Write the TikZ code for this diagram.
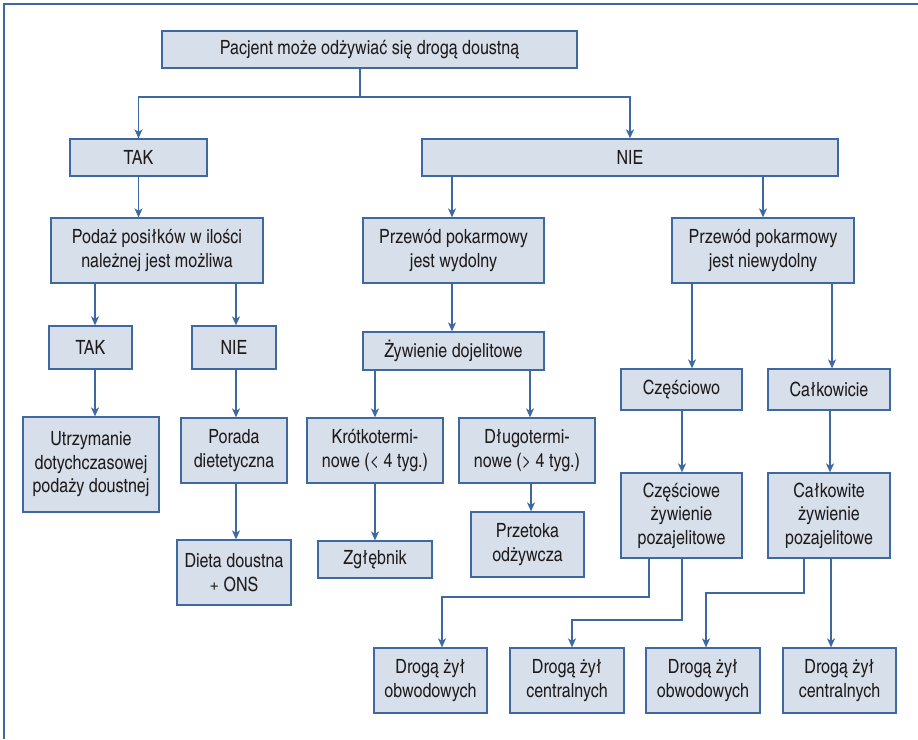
\documentclass[tikz,border=0pt]{standalone}
\usepackage{fontspec}
\setmainfont{TeX Gyre Heros Cn}
\usetikzlibrary{arrows.meta,calc}
\definecolor{boxfill}{RGB}{215,223,234}
\definecolor{boxline}{RGB}{62,104,162}
\definecolor{txt}{RGB}{30,27,28}
\begin{document}
\begin{tikzpicture}[x=1pt,y=-1pt,
  box/.style={draw=boxline,fill=boxfill,line width=1.3pt,align=center,inner sep=0pt,
    text=txt,font=\fontsize{19.6}{23.5}\selectfont},
  conn/.style={draw=boxline,line width=1.3pt},
  arr/.style={conn,-{Stealth[length=9pt,width=8pt,inset=2.5pt]}}]
\useasboundingbox (0,0) rectangle (918,739);
% frame
\draw[conn] (4,739) -- (4,4) -- (918,4);
% nodes
\node[box,minimum width=415,minimum height=37] (top) at (369.5,49.5) {Pacjent może odżywiać się drogą doustną};
\node[box,minimum width=137,minimum height=37] (tak) at (138.5,157.5) {TAK};
\node[box,minimum width=416,minimum height=37] (nie) at (630,157.5) {NIE};
\node[box,minimum width=212,minimum height=65] (podaz) at (157,250.5) {Podaż posiłków w ilości\\należnej jest możliwa};
\node[box,minimum width=181,minimum height=65] (wyd) at (453.5,250.5) {Przewód pokarmowy\\jest wydolny};
\node[box,minimum width=182,minimum height=65] (niewyd) at (763,250.5) {Przewód pokarmowy\\jest niewydolny};
\node[box,minimum width=83,minimum height=43] (tak2) at (90.5,347.5) {TAK};
\node[box,minimum width=84,minimum height=43] (nie2) at (234,347.5) {NIE};
\node[box,minimum width=181,minimum height=38] (zyw) at (453.5,351) {Żywienie dojelitowe};
\node[box,minimum width=121,minimum height=41] (czesc) at (681.5,389.5) {Częściowo};
\node[box,minimum width=122,minimum height=41] (calk) at (829,389.5) {Całkowicie};
\node[box,minimum width=136,minimum height=95] (utrz) at (91,464.5) {Utrzymanie\\dotychczasowej\\podaży doustnej};
\node[box,minimum width=106,minimum height=65] (porada) at (234,450.5) {Porada\\dietetyczna};
\node[box,minimum width=136,minimum height=65] (krotko) at (375,450.5) {Krótkotermi-\\nowe (< 4 tyg.)};
\node[box,minimum width=136,minimum height=65] (dlugo) at (527,450.5) {Długotermi-\\nowe (> 4 tyg.)};
\node[box,minimum width=121,minimum height=85] (czescZ) at (681.5,515.5) {Częściowe\\żywienie\\pozajelitowe};
\node[box,minimum width=122,minimum height=85] (calkZ) at (829,515.5) {Całkowite\\żywienie\\pozajelitowe};
\node[box,minimum width=113,minimum height=65] (przetoka) at (527.5,544.5) {Przetoka\\odżywcza};
\node[box,minimum width=114,minimum height=65] (dieta) at (234,572.5) {Dieta doustna\\+ ONS};
\node[box,minimum width=114,minimum height=37] (zgleb) at (375,559.5) {Zgłębnik};
\node[box,minimum width=113,minimum height=65] (d1) at (430.5,680.5) {Drogą żył\\obwodowych};
\node[box,minimum width=114,minimum height=65] (d2) at (567,680.5) {Drogą żył\\centralnych};
\node[box,minimum width=114,minimum height=65] (d3) at (703,680.5) {Drogą żył\\obwodowych};
\node[box,minimum width=113,minimum height=65] (d4) at (839.5,680.5) {Drogą żył\\centralnych};
% helper coordinates
\coordinate (j0) at (360,97);
\coordinate (x95) at (95,0);
\coordinate (x236) at (236,0);
\coordinate (x452) at (452,0);
\coordinate (x375) at (375,0);
\coordinate (x530) at (530,0);
\coordinate (x531) at (531,0);
\coordinate (x692) at (692,0);
\coordinate (x832) at (832,0);
\coordinate (x682) at (682,0);
\coordinate (x830) at (830,0);
\coordinate (j1) at (649,597);
\coordinate (x442) at (442,0);
\coordinate (j2) at (682,620);
\coordinate (x572) at (572,0);
\coordinate (j3) at (804,593);
\coordinate (x706) at (706,0);
\coordinate (x831) at (831,0);
% connectors
\draw[conn] (top.south -| j0) -- (j0);
\draw[arr] (j0) -| (tak.north);
\draw[arr] (j0) -| (nie.north);
\draw[arr] (tak.south) -- (tak.south |- podaz.north);
\draw[arr] (nie.south -| x452) -- (wyd.north -| x452);
\draw[arr] (nie.south -| niewyd.north) -- (niewyd.north);
\draw[arr] (podaz.south -| x95) -- (tak2.north -| x95);
\draw[arr] (podaz.south -| x236) -- (nie2.north -| x236);
\draw[arr] (tak2.south -| x95) -- (utrz.north -| x95);
\draw[arr] (nie2.south -| x236) -- (porada.north -| x236);
\draw[arr] (porada.south -| x236) -- (dieta.north -| x236);
\draw[arr] (wyd.south -| x452) -- (zyw.north -| x452);
\draw[arr] (zyw.south -| x375) -- (krotko.north -| x375);
\draw[arr] (zyw.south -| x530) -- (dlugo.north -| x530);
\draw[arr] (krotko.south -| x375) -- (zgleb.north -| x375);
\draw[arr] (dlugo.south -| x531) -- (przetoka.north -| x531);
\draw[arr] (niewyd.south -| x692) -- (czesc.north -| x692);
\draw[arr] (niewyd.south -| x832) -- (calk.north -| x832);
\draw[arr] (czesc.south -| x682) -- (czescZ.north -| x682);
\draw[arr] (calk.south -| x830) -- (calkZ.north -| x830);
\draw[arr] (czescZ.south -| j1) -- (j1) -| (d1.north -| x442);
\draw[arr] (czescZ.south -| j2) -- (j2) -| (d2.north -| x572);
\draw[arr] (calkZ.south -| j3) -- (j3) -| (d3.north -| x706);
\draw[arr] (calkZ.south -| x831) -- (d4.north -| x831);
\end{tikzpicture}
\end{document}
